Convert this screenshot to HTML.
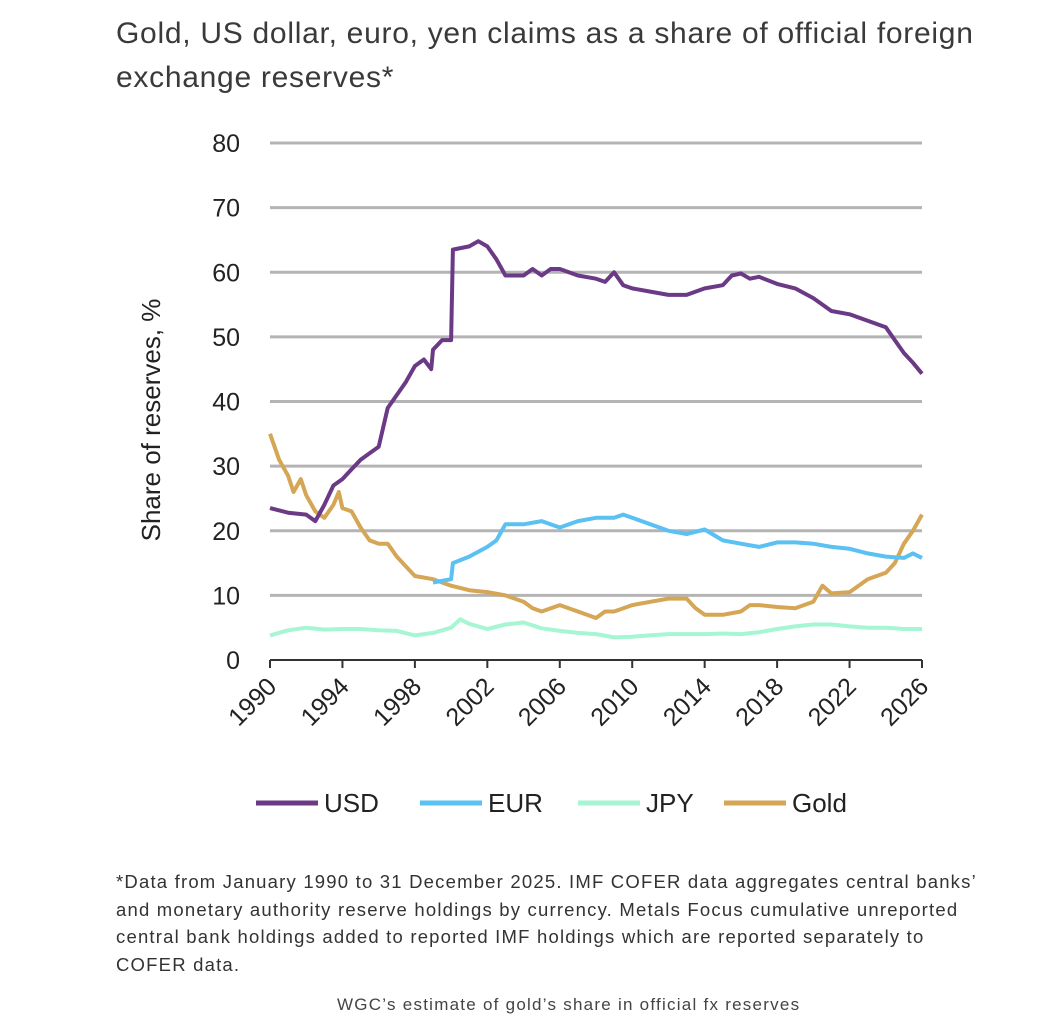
<!DOCTYPE html>
<html><head><meta charset="utf-8"><style>
body{margin:0;background:#fff;width:1051px;height:1025px;overflow:hidden;font-family:"Liberation Sans",sans-serif;color:#333}
#title{position:absolute;left:116px;top:12px;font-size:30px;letter-spacing:0.72px;line-height:44px;color:#3a3a3a;width:920px;white-space:nowrap}
#note{position:absolute;left:116px;top:868px;font-size:18.5px;letter-spacing:1.2px;line-height:27.5px;color:#333;width:930px;white-space:nowrap}
#cap{position:absolute;left:337px;top:995px;font-size:17px;letter-spacing:1.25px;color:#444;white-space:nowrap}
svg{position:absolute;left:0;top:0}
</style></head><body>
<div id="title">Gold, US dollar, euro, yen claims as a share of official foreign<br>exchange reserves*</div>
<svg id="chart" width="1051" height="860"></svg>
<div id="note">*Data from January 1990 to 31 December 2025. IMF COFER data aggregates central banks’<br>and monetary authority reserve holdings by currency. Metals Focus cumulative unreported<br>central bank holdings added to reported IMF holdings which are reported separately to<br>COFER data.</div>
<div id="cap">WGC’s estimate of gold’s share in official fx reserves</div>
<script>
const yTicks=[0,10,20,30,40,50,60,70,80];
const xTicks=[1990,1994,1998,2002,2006,2010,2014,2018,2022,2026];
const usdX=[1990,1991,1992,1992.5,1993,1993.5,1994,1994.5,1995,1995.5,1996,1996.5,1997,1997.5,1998,1998.5,1998.9,1999,1999.5,2000,2000.1,2001,2001.5,2002,2002.5,2003,2004,2004.5,2005,2005.5,2006,2007,2008,2008.5,2009,2009.5,2010,2011,2012,2013,2014,2015,2015.5,2016,2016.5,2017,2018,2019,2020,2021,2022,2022.5,2023,2024,2024.5,2025,2025.5,2026];
const usdY=[23.5,22.8,22.5,21.5,24,27,28,29.5,31,32,33,39,41,43,45.5,46.5,45,48,49.5,49.5,63.5,64,64.8,64,62,59.5,59.5,60.5,59.5,60.5,60.5,59.5,59,58.5,60,58,57.5,57,56.5,56.5,57.5,58,59.5,59.8,59,59.3,58.2,57.5,56,54,53.5,53,52.5,51.5,49.5,47.5,46,44.3];
const eurX=[1999,2000,2000.1,2001,2002,2002.5,2003,2004,2005,2006,2007,2008,2009,2009.5,2010,2011,2012,2013,2014,2015,2016,2017,2018,2019,2020,2021,2022,2023,2024,2025,2025.5,2026];
const eurY=[12,12.5,15,16,17.5,18.5,21,21,21.5,20.5,21.5,22,22,22.5,22,21,20,19.5,20.2,18.5,18,17.5,18.2,18.2,18,17.5,17.2,16.5,16,15.8,16.5,15.8];
const jpyX=[1990,1991,1992,1993,1994,1995,1996,1997,1998,1999,2000,2000.5,2001,2002,2003,2004,2005,2006,2007,2008,2009,2010,2011,2012,2013,2014,2015,2016,2017,2018,2019,2020,2021,2022,2023,2024,2025,2026];
const jpyY=[3.8,4.6,5,4.7,4.8,4.8,4.6,4.5,3.8,4.2,5,6.3,5.6,4.8,5.5,5.8,4.9,4.5,4.2,4,3.5,3.6,3.8,4,4,4,4.1,4,4.3,4.8,5.2,5.5,5.5,5.2,5,5,4.8,4.8];
const goldX=[1990,1990.5,1991,1991.3,1991.7,1992,1992.5,1993,1993.5,1993.8,1994,1994.5,1995,1995.5,1996,1996.5,1997,1997.5,1998,1999,1999.5,2000,2001,2002,2003,2004,2004.5,2005,2006,2007,2008,2008.5,2009,2010,2011,2012,2013,2013.5,2014,2015,2016,2016.5,2017,2018,2019,2020,2020.5,2021,2022,2022.5,2023,2024,2024.5,2025,2025.5,2026];
const goldY=[35,31,28.5,26,28,25.5,23,22,24,26,23.5,23,20.5,18.5,18,18,16,14.5,13,12.5,12,11.5,10.8,10.5,10,9,8,7.5,8.5,7.5,6.5,7.5,7.5,8.5,9,9.5,9.5,8,7,7,7.5,8.5,8.5,8.2,8,9,11.5,10.3,10.5,11.5,12.5,13.5,15,18,20,22.5];
const NS='http://www.w3.org/2000/svg';
const svg=document.getElementById('chart');
const sx=v=>270+(v-1990)*(922-270)/36;
const sy=v=>660-v*(660-143)/80;
function mk(t,a,txt){const e=document.createElementNS(NS,t);for(const k in a)e.setAttribute(k,a[k]);if(txt!==undefined)e.textContent=txt;svg.appendChild(e);return e;}
yTicks.forEach(v=>{
 if(v>0){const g=mk('line',{x1:270,x2:922,y1:sy(v),y2:sy(v),stroke:'#b4b4b4','stroke-width':3});
 
 }
 const t=mk('text',{x:240,y:sy(v)+9,'text-anchor':'end','font-size':25,fill:'#222'},v);
 
 
});
const ax=mk('line',{x1:270,x2:922,y1:660,y2:660,stroke:'#333','stroke-width':2});


xTicks.forEach(v=>{
 const tk=mk('line',{x1:sx(v),x2:sx(v),y1:660,y2:668,stroke:'#333','stroke-width':2});
 
 
 const t=mk('text',{x:sx(v)+8,y:688,'text-anchor':'end','font-size':25,fill:'#222',transform:`rotate(-45 ${sx(v)+8} 688)`},v);
 
 
});
const yt=mk('text',{x:160,y:420,'text-anchor':'middle','font-size':26,fill:'#222',transform:'rotate(-90 160 420)'},'Share of reserves, %');


const series=[['jpy',jpyX,jpyY,'#a6f5d3'],['gold',goldX,goldY,'#d4a655'],['eur',eurX,eurY,'#5bc0f2'],['usd',usdX,usdY,'#6b3a86']];
series.forEach(([n,xs,ys,c])=>{
 const p=mk('polyline',{points:xs.map((x,i)=>sx(x).toFixed(1)+','+sy(ys[i]).toFixed(1)).join(' '),fill:'none',stroke:c,'stroke-width':4,'stroke-linejoin':'round'});
 
 
});
const leg=[['USD','#6b3a86',256],['EUR','#5bc0f2',420],['JPY','#a6f5d3',578],['Gold','#d4a655',724]];
leg.forEach(([l,c,x])=>{
 const s=mk('line',{x1:x,x2:x+62,y1:803,y2:803,stroke:c,'stroke-width':5});
 
 
 const t=mk('text',{x:x+68,y:812,'font-size':26,fill:'#222'},l);
 
 
});
</script>
</body></html>
